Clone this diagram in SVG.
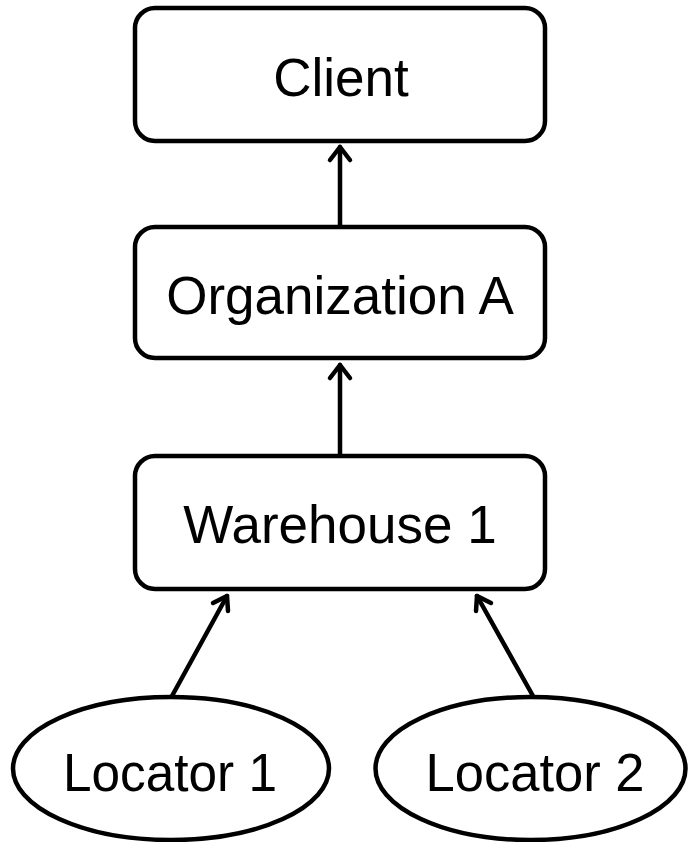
<svg xmlns="http://www.w3.org/2000/svg" width="688" height="842" viewBox="0 0 688 842">
<style>
.box{fill:#fff;stroke:#000;stroke-width:4.5}
.lbl{font-family:"Liberation Sans",Arial,sans-serif;font-size:53px;fill:#000;text-anchor:middle}
.edge{fill:none;stroke:#000;stroke-width:4.5;stroke-linecap:round}
.head{fill:none;stroke:#000;stroke-width:4.5;stroke-linecap:round;stroke-linejoin:round}
</style>
<rect width="688" height="842" fill="#fff"/>
<g id="connectors">
<line class="edge" x1="340" y1="225" x2="340" y2="147"/>
<polyline class="head" points="330,160 340,147 350,160"/>
<line class="edge" x1="340" y1="454" x2="340" y2="365"/>
<polyline class="head" points="330,378 340,365 350,378"/>
<line class="edge" x1="172" y1="696" x2="227" y2="596"/>
<polyline class="head" points="213,603 227,596 228,611"/>
<line class="edge" x1="533" y1="696" x2="477" y2="596"/>
<polyline class="head" points="491,603 477,596 476,611"/>
</g>
<g id="client">
<rect class="box" x="135" y="8" width="410" height="133" rx="20"/>
<text class="lbl" x="341" y="96">Client</text>
</g>
<g id="orgA">
<rect class="box" x="135" y="227" width="410" height="131" rx="20"/>
<text class="lbl" x="340" y="314">Organization A</text>
</g>
<g id="warehouse1">
<rect class="box" x="135" y="456" width="410" height="133" rx="20"/>
<text class="lbl" x="340" y="543">Warehouse 1</text>
</g>
<g id="locator1">
<ellipse class="box" cx="171" cy="768.5" rx="158" ry="71.5"/>
<text class="lbl" x="170" y="791" textLength="214" lengthAdjust="spacingAndGlyphs">Locator 1</text>
</g>
<g id="locator2">
<ellipse class="box" cx="530.5" cy="768.5" rx="155" ry="71.5"/>
<text class="lbl" x="535" y="791" textLength="219" lengthAdjust="spacingAndGlyphs">Locator 2</text>
</g>
</svg>
